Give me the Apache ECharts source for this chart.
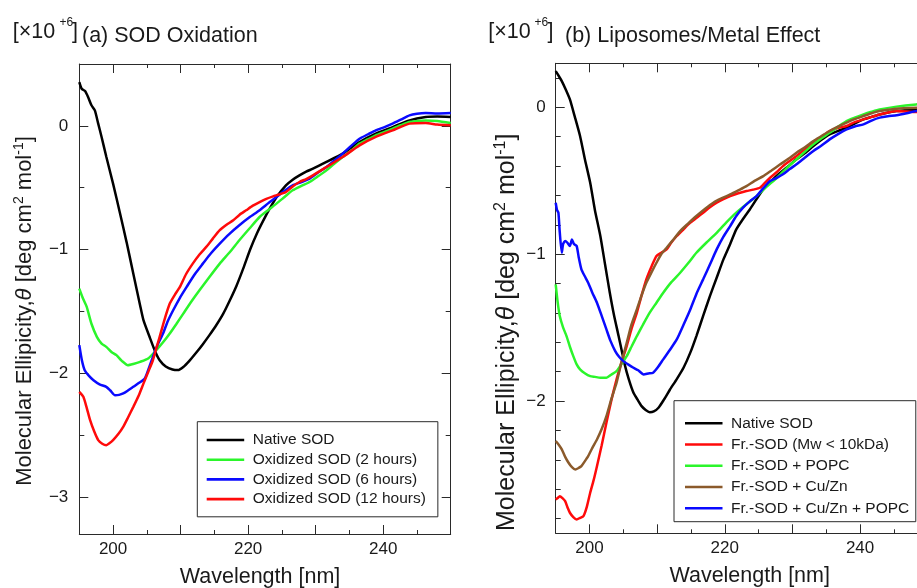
<!DOCTYPE html>
<html><head><meta charset="utf-8">
<script src="https://cdn.jsdelivr.net/npm/echarts@6/dist/echarts.min.js"></script>
<style>html,body{margin:0;padding:0;background:#fff}#c{width:917px;height:588px}</style>
</head><body><div id="c"></div>
<script>
// ---------- data (wavelength nm, ellipticity x10^6) ----------
// Panel (a) SOD Oxidation
const a_native_x = [195,195.35,195.85,196.3,196.8,197.3,197.8,198.3,199,200,201,202,203,204,204.5,205.5,206.2,206.9,207.8,208.8,209.6,210.4,211.3,212.3,213.3,214.3,215.3,216.3,217.3,218.3,219.3,220.3,221.3,222.3,223.3,224.3,225.6,226.6,227.6,228.6,229.6,231.6,234,236.5,238.9,241.4,243.9,246.3,248,250];
const a_native_y = [0.354,0.30,0.281,0.233,0.166,0.125,0.018,-0.09,-0.25,-0.467,-0.70,-0.94,-1.195,-1.45,-1.571,-1.72,-1.82,-1.895,-1.945,-1.97,-1.975,-1.95,-1.9,-1.835,-1.765,-1.69,-1.61,-1.52,-1.41,-1.29,-1.15,-1.0,-0.87,-0.76,-0.66,-0.57,-0.481,-0.435,-0.4,-0.37,-0.346,-0.292,-0.225,-0.131,-0.063,-0.01,0.044,0.071,0.075,0.071];
const a_ox2_x = [195,195.5,196.1,196.8,197.6,198.3,199,199.8,200.5,201.3,202.2,203,204,205.2,206.4,207.4,208.4,209.4,210.4,211.6,212.8,214.3,215.8,217.3,218.7,220.2,221.7,223,224.2,225.4,226.6,227.9,229.1,230.3,231.6,232.8,234,235.3,236.5,237.7,238.9,240.2,241.4,242.6,243.9,246.3,248,250];
const a_ox2_y = [-1.316,-1.39,-1.464,-1.6,-1.706,-1.76,-1.787,-1.83,-1.854,-1.9,-1.935,-1.925,-1.908,-1.881,-1.814,-1.75,-1.679,-1.6,-1.518,-1.42,-1.329,-1.22,-1.114,-1.02,-0.925,-0.83,-0.737,-0.68,-0.629,-0.575,-0.521,-0.485,-0.454,-0.41,-0.36,-0.305,-0.252,-0.2,-0.144,-0.11,-0.077,-0.05,-0.023,0.005,0.031,0.044,0.04,0.023];
const a_ox6_x = [195,195.4,195.8,196.4,197.1,198,199,199.6,200.3,200.9,201.5,202.2,203,203.8,204.7,205.3,205.9,206.6,207.4,208.1,208.9,209.9,210.9,212.1,213.3,214.5,215.8,217.2,218.7,220.2,221.7,223,224.2,225.4,226.6,227.9,229.1,230.3,231.6,232.8,234,235.3,236.5,237.7,238.9,240.2,241.4,242.6,243.9,245,246.3,248,250];
const a_ox6_y = [-1.773,-1.9,-1.976,-2.02,-2.057,-2.09,-2.11,-2.14,-2.178,-2.175,-2.164,-2.14,-2.11,-2.08,-2.043,-1.96,-1.868,-1.77,-1.679,-1.58,-1.491,-1.39,-1.302,-1.2,-1.114,-1.03,-0.952,-0.875,-0.804,-0.74,-0.683,-0.625,-0.575,-0.525,-0.481,-0.455,-0.427,-0.38,-0.333,-0.28,-0.225,-0.16,-0.104,-0.07,-0.036,-0.01,0.018,0.05,0.085,0.098,0.104,0.1,0.104];
const a_ox12_x = [195,195.6,196.1,196.6,197.2,197.8,198.4,199,199.5,200,200.8,201.5,202.2,203,203.8,204.5,205.2,205.9,206.4,206.9,207.6,208.4,209.1,209.9,210.8,211.8,212.8,213.8,214.8,215.8,216.8,217.8,218.7,219.7,220.7,221.7,222.7,223.7,224.6,225.6,226.6,227.6,228.6,229.6,231.6,234,236.5,238.9,241.4,243.9,246.3,248,250];
const a_ox12_y = [-2.151,-2.191,-2.28,-2.38,-2.47,-2.541,-2.57,-2.582,-2.565,-2.541,-2.49,-2.434,-2.36,-2.272,-2.18,-2.084,-1.99,-1.895,-1.8,-1.706,-1.57,-1.437,-1.37,-1.302,-1.2,-1.114,-1.04,-0.979,-0.91,-0.844,-0.8,-0.763,-0.72,-0.683,-0.645,-0.616,-0.59,-0.57,-0.555,-0.535,-0.49,-0.454,-0.43,-0.4,-0.333,-0.252,-0.158,-0.09,-0.036,0.018,0.023,0.01,0.004];

// Panel (b) Liposomes/Metal Effect
const b_native_x = [195,195.5,195.9,196.5,197.1,197.8,198.6,199.3,200.1,200.8,201.6,202.3,203,203.6,204.3,205.2,205.8,206.5,207.1,207.7,208.3,208.9,209.5,210.2,211,211.9,212.9,213.9,214.9,215.8,216.8,217.8,218.8,219.8,220.8,221.7,222.7,223.7,224.7,225.7,226.9,228.2,229.4,230.6,231.9,233.1,234.3,235.5,236.8,238,239.2,240.5,241.7,242.9,245.4,248.3,250];
const b_native_y = [0.247,0.21,0.179,0.12,0.054,-0.06,-0.195,-0.35,-0.513,-0.7,-0.876,-1.07,-1.262,-1.41,-1.557,-1.75,-1.85,-1.943,-1.99,-2.034,-2.06,-2.075,-2.07,-2.045,-1.99,-1.921,-1.85,-1.773,-1.67,-1.557,-1.42,-1.285,-1.16,-1.035,-0.93,-0.831,-0.76,-0.695,-0.625,-0.558,-0.5,-0.445,-0.4,-0.354,-0.31,-0.263,-0.22,-0.184,-0.16,-0.138,-0.11,-0.082,-0.065,-0.048,-0.025,-0.014,-0.005];
const b_fr_x = [195,195.3,195.6,196,196.4,196.8,197.1,197.6,198.1,198.6,199.1,199.6,200.1,200.6,201.1,201.8,202.5,203.2,204,204.7,205.5,206.2,207,207.7,208.4,209.2,209.9,210.6,211.4,212.1,212.9,213.9,214.9,215.9,216.8,217.8,218.8,219.8,220.8,222,223.2,224.2,225.2,226,226.7,227.7,228.6,229.6,230.6,231.9,233.1,234.3,235.5,236.8,238,239.2,240.5,241.7,242.9,245.4,248.3,250];
const b_fr_y = [-2.67,-2.66,-2.647,-2.66,-2.681,-2.73,-2.76,-2.79,-2.806,-2.795,-2.783,-2.72,-2.624,-2.54,-2.443,-2.3,-2.148,-2.0,-1.852,-1.74,-1.625,-1.51,-1.398,-1.28,-1.171,-1.08,-1.012,-0.99,-0.967,-0.92,-0.876,-0.83,-0.785,-0.75,-0.717,-0.68,-0.649,-0.625,-0.604,-0.585,-0.57,-0.56,-0.547,-0.51,-0.479,-0.44,-0.4,-0.365,-0.331,-0.285,-0.241,-0.2,-0.161,-0.14,-0.127,-0.1,-0.082,-0.065,-0.048,-0.025,-0.032,-0.03];
const b_popc_x = [195,195.3,195.6,196.1,196.6,197.1,197.6,198.1,198.6,199.3,200.1,200.8,201.6,202.5,203.2,204,204.7,205.5,206.2,207,207.9,208.9,209.9,210.9,212.1,213.4,214.6,215.8,217.3,218.8,220.2,221.7,223.2,224.7,226.2,227.7,229.1,230.6,231.9,233.1,234.3,235.5,236.8,238,239.2,240.5,241.7,242.9,245.4,248.3,250];
const b_popc_y = [-1.205,-1.33,-1.421,-1.5,-1.557,-1.63,-1.694,-1.75,-1.784,-1.81,-1.83,-1.835,-1.841,-1.841,-1.82,-1.796,-1.75,-1.694,-1.63,-1.557,-1.48,-1.398,-1.33,-1.262,-1.19,-1.126,-1.06,-0.99,-0.92,-0.854,-0.785,-0.717,-0.66,-0.604,-0.54,-0.479,-0.415,-0.354,-0.3,-0.252,-0.21,-0.173,-0.13,-0.093,-0.07,-0.048,-0.03,-0.014,0.005,0.02,0.025];
const b_cuzn_x = [195,195.5,195.9,196.4,196.9,197.4,197.9,198.4,198.8,199.3,199.8,200.4,201.1,201.8,202.5,203.2,204,204.7,205.5,206.2,207,207.7,208.4,209.2,209.9,210.6,211.4,212.4,213.4,214.6,215.8,217.1,218.3,219.5,220.8,222,223.2,224.4,225.7,226.9,228.2,229.4,230.6,231.9,233.1,234.3,235.5,236.8,238,239.2,240.5,241.7,242.9,245.4,248.3,250];
const b_cuzn_y = [-2.272,-2.3,-2.329,-2.38,-2.42,-2.45,-2.465,-2.455,-2.443,-2.41,-2.375,-2.32,-2.261,-2.19,-2.102,-1.99,-1.875,-1.74,-1.603,-1.48,-1.376,-1.28,-1.194,-1.12,-1.058,-1.0,-0.956,-0.9,-0.842,-0.79,-0.74,-0.69,-0.649,-0.62,-0.593,-0.565,-0.536,-0.5,-0.468,-0.43,-0.388,-0.35,-0.309,-0.27,-0.229,-0.195,-0.161,-0.13,-0.104,-0.08,-0.059,-0.04,-0.025,-0.009,-0.002,0.0];
const b_cuznpopc_x = [195,195.2,195.4,195.6,195.9,196.1,196.4,196.7,197.1,197.4,197.7,198.1,198.4,198.8,199.3,199.8,200.4,201.1,201.8,202.5,203.1,203.8,204.4,205,205.7,206.5,207.2,208,208.7,209.4,210.1,210.9,211.9,212.9,213.9,214.9,215.8,216.8,217.8,218.8,219.8,220.8,221.7,222.7,223.7,224.7,225.7,226.7,227.7,228.6,229.6,230.6,231.9,233.1,234.3,235.5,236.8,238,239.2,240.5,241.7,242.9,244.1,245.4,246.9,248.3,250];
const b_cuznpopc_y = [-0.649,-0.7,-0.717,-0.85,-0.99,-0.93,-0.91,-0.92,-0.944,-0.9,-0.93,-0.944,-1.02,-1.103,-1.15,-1.194,-1.26,-1.33,-1.42,-1.512,-1.59,-1.659,-1.7,-1.728,-1.75,-1.773,-1.79,-1.818,-1.812,-1.807,-1.77,-1.716,-1.65,-1.58,-1.48,-1.376,-1.27,-1.171,-1.07,-0.967,-0.88,-0.808,-0.74,-0.683,-0.64,-0.604,-0.55,-0.502,-0.48,-0.456,-0.42,-0.388,-0.34,-0.297,-0.26,-0.218,-0.18,-0.15,-0.13,-0.116,-0.09,-0.07,-0.06,-0.054,-0.04,-0.025,-0.02];

// ---------- ticks ----------
const xMajorTicks = [200,210,220,230,240,250];
const xMinorTicks = [205,215,225,235,245];
const xTickLabels = [200,220,240];
const aYMajor = [-3,-2,-1,0];
const aYMinor = [-2.5,-1.5,-0.5];
const bYMajor = [-2,-1,0];
const bYMinor = [-2.8,-2.6,-2.4,-2.2,-1.8,-1.6,-1.4,-1.2,-0.8,-0.6,-0.4,-0.2,0.2];

const legendA = ['Native SOD','Oxidized SOD (2 hours)','Oxidized SOD (6 hours)','Oxidized SOD (12 hours)'];
const legendB = ['Native SOD','Fr.-SOD (Mw < 10kDa)','Fr.-SOD + POPC','Fr.-SOD + Cu/Zn','Fr.-SOD + Cu/Zn + POPC'];

// ---------- chart ----------
const F = "'Liberation Sans', Arial, Helvetica, sans-serif";
const TXT = '#1a1a1a', AX = '#2a2a2a';
const zip = (xs, ys) => xs.map((x, i) => [x, ys[i]]);
const minus = v => String(v).replace('-', '\u2212');

function xAxesFor(gi, namePad) {
  const base = {type:'value', gridIndex:gi, min:195, max:250, splitLine:{show:false}, axisPointer:{show:false}};
  return [
    Object.assign({}, base, {position:'bottom',
      axisLine:{show:true, onZero:false, lineStyle:{color:AX, width:1}},
      axisTick:{show:true, inside:true, length:9, customValues:xMajorTicks, lineStyle:{color:AX}},
      axisLabel:{show:true, customValues:xTickLabels, margin:7, fontSize:17, color:TXT, fontFamily:F},
      name:'Wavelength [nm]', nameLocation:'middle', nameGap:32,
      nameTextStyle:{fontSize:21.5, color:TXT, fontFamily:F, padding:namePad}}),
    Object.assign({}, base, {position:'bottom', axisLine:{show:false, onZero:false},
      axisTick:{show:true, inside:true, length:4, customValues:xMinorTicks, lineStyle:{color:AX}},
      axisLabel:{show:false}}),
    Object.assign({}, base, {position:'top', axisLine:{show:true, onZero:false, lineStyle:{color:AX, width:1}},
      axisTick:{show:true, inside:true, length:9, customValues:xMajorTicks, lineStyle:{color:AX}},
      axisLabel:{show:false}}),
    Object.assign({}, base, {position:'top', axisLine:{show:false, onZero:false},
      axisTick:{show:true, inside:true, length:4, customValues:xMinorTicks, lineStyle:{color:AX}},
      axisLabel:{show:false}})
  ];
}
const yName = 'Molecular Ellipicity,{it|\u03b8} [deg cm{sup|2} mol{sup|-1}]';
function yAxesFor(gi, min, max, major, minor, labelMargin, nameGap, namePad, fs) {
  const base = {type:'value', gridIndex:gi, min:min, max:max, splitLine:{show:false}, axisPointer:{show:false}};
  const lh = Math.round(fs * 1.18), sfs = Math.round(fs * 0.62);
  return [
    Object.assign({}, base, {position:'left',
      axisLine:{show:true, onZero:false, lineStyle:{color:AX, width:1}},
      axisTick:{show:true, inside:true, length:9, customValues:major, lineStyle:{color:AX}},
      axisLabel:{show:true, customValues:major, margin:labelMargin, fontSize:17, color:TXT, fontFamily:F, formatter:minus},
      name:yName, nameLocation:'middle', nameRotate:90, nameGap:nameGap,
      nameTextStyle:{fontSize:fs, color:TXT, fontFamily:F, lineHeight:lh, padding:namePad,
        rich:{it:{fontSize:fs, fontStyle:'italic', color:TXT, fontFamily:F, lineHeight:lh},
              sup:{fontSize:sfs, color:TXT, fontFamily:F, lineHeight:sfs, verticalAlign:'top'}}}}),
    Object.assign({}, base, {position:'left', axisLine:{show:false, onZero:false},
      axisTick:{show:true, inside:true, length:5, customValues:minor, lineStyle:{color:AX}},
      axisLabel:{show:false}}),
    Object.assign({}, base, {position:'right', axisLine:{show:true, onZero:false, lineStyle:{color:AX, width:1}},
      axisTick:{show:true, inside:true, length:9, customValues:major, lineStyle:{color:AX}},
      axisLabel:{show:false}}),
    Object.assign({}, base, {position:'right', axisLine:{show:false, onZero:false},
      axisTick:{show:true, inside:true, length:5, customValues:minor, lineStyle:{color:AX}},
      axisLabel:{show:false}})
  ];
}
function line(name, xs, ys, color, xi, yi) {
  return {type:'line', name:name, xAxisIndex:xi, yAxisIndex:yi, data:zip(xs, ys),
    symbol:'none', showSymbol:false, smooth:0.2, clip:true, animation:false,
    lineStyle:{color:color, width:2.5}, itemStyle:{color:color}, emphasis:{disabled:true}};
}
const C = {black:'#000000', green:'#2bf52b', blue:'#0a0aff', red:'#ff0a0a', brown:'#8b5a2b'};

const legendBase = {orient:'vertical', icon:'rect', itemWidth:37.5, itemHeight:2.6, selectedMode:false,
  borderColor:AX, borderWidth:1, backgroundColor:'#fff',
  textStyle:{fontSize:15.5, color:TXT, fontFamily:F, lineHeight:16, padding:[0,0,0,3.5]}};

const titleText = (x, y, text, size) => ({type:'text', left:x, top:y,
  style:{text:text, fontSize:size, fill:TXT, fontFamily:F}});

const option = {
  backgroundColor:'#fff',
  animation:false,
  grid:[
    {left:79.3, width:371.4, top:64, height:470, containLabel:false, outerBoundsMode:'none'},
    {left:555.7, width:372, top:63.3, height:470, containLabel:false, outerBoundsMode:'none'}
  ],
  xAxis: xAxesFor(0, [0,10,0,0]).concat(xAxesFor(1, [0,0,0,16])),
  yAxis: yAxesFor(0, -3.3, 0.5, aYMajor, aYMinor, 11, 41, [0,24,0,0], 22)
    .concat(yAxesFor(1, -2.9, 0.3, bYMajor, bYMinor, 10, 28, [0,68,0,0], 25)),
  legend:[
    Object.assign({}, legendBase, {data:legendA, left:197.3, top:421.7, itemGap:3.7, padding:[10.3,12,9.7,9.4]}),
    Object.assign({}, legendBase, {data:legendB, left:674, top:400.7, itemGap:5.25, padding:[14.6,6.5,5.4,11]})
  ],
  graphic:[
    titleText(12.7, 21, '[\u00d710', 21.5),
    titleText(59.5, 17, '+6', 12),
    titleText(72, 21, ']', 21.5),
    titleText(82, 25.3, '(a) SOD Oxidation', 21.5),
    titleText(488.3, 21, '[\u00d710', 21.5),
    titleText(534.5, 17, '+6', 12),
    titleText(547.5, 21, ']', 21.5),
    titleText(565, 25.3, '(b) Liposomes/Metal Effect', 21.5)
  ],
  series:[
    line('Native SOD', a_native_x, a_native_y, C.black, 0, 0),
    line('Oxidized SOD (2 hours)', a_ox2_x, a_ox2_y, C.green, 0, 0),
    line('Oxidized SOD (6 hours)', a_ox6_x, a_ox6_y, C.blue, 0, 0),
    line('Oxidized SOD (12 hours)', a_ox12_x, a_ox12_y, C.red, 0, 0),
    line('Native SOD', b_native_x, b_native_y, C.black, 4, 4),
    line('Fr.-SOD (Mw < 10kDa)', b_fr_x, b_fr_y, C.red, 4, 4),
    line('Fr.-SOD + POPC', b_popc_x, b_popc_y, C.green, 4, 4),
    line('Fr.-SOD + Cu/Zn', b_cuzn_x, b_cuzn_y, C.brown, 4, 4),
    line('Fr.-SOD + Cu/Zn + POPC', b_cuznpopc_x, b_cuznpopc_y, C.blue, 4, 4)
  ]
};
const chart = echarts.init(document.getElementById('c'), null, {renderer:'canvas'});
chart.setOption(option);
</script>
</body></html>
